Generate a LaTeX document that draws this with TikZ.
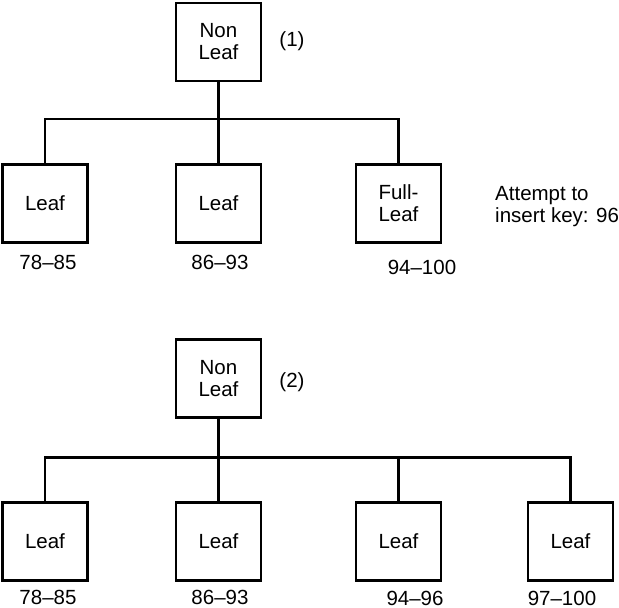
\documentclass[tikz,border=0pt]{standalone}
\usepackage{fontspec}
\setmainfont{Liberation Sans}
\begin{document}
\begin{tikzpicture}[x=1pt,y=-1pt,
  box/.style={draw,line width=2.5pt,minimum width=85pt,minimum height=78pt,inner sep=0pt,align=center,font=\fontsize{20.5}{22}\selectfont},
  lbl/.style={inner sep=0pt,font=\fontsize{20.5}{22}\selectfont},
  conn/.style={line width=2.5pt,line join=miter}]
\useasboundingbox (0,0) rectangle (619,608);
% top tree
\node[box] (n1) at (218.5,42) {Non\\Leaf};
\node[box] (l11) at (45,203.5) {Leaf};
\node[box] (l12) at (218.5,203.5) {Leaf};
\node[box] (l13) at (398.5,203.5) {Full-\\Leaf};
\coordinate (j1) at (218.5,119);
\draw[conn] (n1.south) -- (l12.north);
\draw[conn] (l11.north) |- (l13.north |- j1) -- (l13.north);
\node[lbl] (p1) at (292,41) {(1)};
\node[lbl] (r11) at (48,262) {78–85};
\node[lbl] (r12) at (220,262) {86–93};
\node[lbl] (r13) at (422,267) {94–100};
\node[lbl,anchor=west,align=left] (att) at (495,207) {Attempt to\\insert key: 96};
% bottom tree
\node[box] (n2) at (218.5,378.5) {Non\\Leaf};
\node[box] (l21) at (45,541.5) {Leaf};
\node[box] (l22) at (218.5,541.5) {Leaf};
\node[box] (l23) at (398.5,541.5) {Leaf};
\node[box] (l24) at (570.5,541.5) {Leaf};
\coordinate (j2) at (218.5,457.5);
\draw[conn] (n2.south) -- (l22.north);
\draw[conn] (l21.north) |- (l24.north |- j2) -- (l24.north);
\draw[conn] (l23.north |- j2) -- (l23.north);
\node[lbl] (p2) at (292,382) {(2)};
\node[lbl] (r21) at (48,597) {78–85};
\node[lbl] (r22) at (220,597) {86–93};
\node[lbl] (r23) at (415,598) {94–96};
\node[lbl] (r24) at (562,598) {97–100};
\end{tikzpicture}
\end{document}
